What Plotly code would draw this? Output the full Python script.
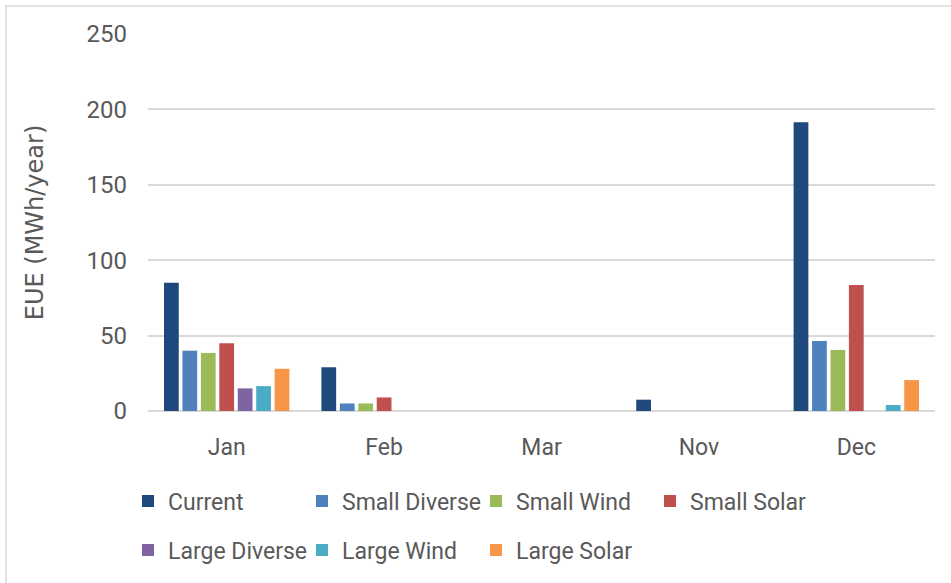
import plotly.graph_objects as go

months = ["Jan", "Feb", "Mar", "Nov", "Dec"]
series_names = ["Current", "Small Diverse", "Small Wind", "Small Solar",
                "Large Diverse", "Large Wind", "Large Solar"]
current = [85, 29, 0, 7.5, 191.5]
small_diverse = [40, 5, 0, 0, 46.5]
small_wind = [38.5, 5, 0, 0, 40.5]
small_solar = [45, 9, 0, 0, 83.5]
large_diverse = [15, 0, 0, 0, 0]
large_wind = [16.5, 0, 0, 0, 4]
large_solar = [28, 0, 0, 0, 20.5]
y_ticks = [0, 50, 100, 150, 200, 250]

values = [current, small_diverse, small_wind, small_solar,
          large_diverse, large_wind, large_solar]
colors = ["#1F497D", "#4F81BD", "#9BBB59", "#C0504D",
          "#8064A2", "#4BACC6", "#F79646"]

FONT = "Liberation Sans Narrow, Roboto, sans-serif"

fig = go.Figure()
for i, (name, vals, col) in enumerate(zip(series_names, values, colors)):
    fig.add_trace(go.Bar(
        x=months, y=vals, name=name,
        marker=dict(color=col, line=dict(width=0)),
        legend="legend" if i < 4 else "legend2",
    ))

W, H = 951, 583
L, R, T, B = 148, 16, 34, 172
pw, ph = W - L - R, H - T - B

def px_x(x):
    return (x - L) / pw

def px_y(y):
    return (H - B - y) / ph

legend_common = dict(
    orientation="h", entrywidth=129, entrywidthmode="pixels",
    font=dict(family=FONT, size=23, color="#595959"),
    bgcolor="rgba(0,0,0,0)", xanchor="left", yanchor="middle",
    itemclick=False, itemdoubleclick=False,
)

fig.update_layout(
    width=W, height=H,
    margin=dict(l=L, r=R, t=T, b=B),
    paper_bgcolor="white", plot_bgcolor="white",
    barmode="group", bargap=0.18, bargroupgap=0.2,
    showlegend=True,
    legend=dict(x=px_x(128), y=px_y(501), **legend_common),
    legend2=dict(x=px_x(128), y=px_y(550), **legend_common),
    xaxis=dict(
        tickfont=dict(family=FONT, size=23, color="#595959"),
        showgrid=False, showline=False, zeroline=False,
        ticks="", ticklabelstandoff=20,
    ),
    yaxis=dict(
        range=[0, 250], tickvals=y_ticks,
        tickfont=dict(family=FONT, size=24, color="#595959"),
        showgrid=True, gridcolor="#D9D9D9", gridwidth=1.8,
        zeroline=True, zerolinecolor="#D9D9D9", zerolinewidth=1.8,
        showline=False, ticks="", ticklabelstandoff=20,
        title=dict(text="EUE (MWh/year)", standoff=36,
                   font=dict(family="DejaVu Sans, sans-serif", size=24, color="#595959")),
        automargin=False,
    ),
)

fig.add_shape(type="rect", xref="paper", yref="paper",
              x0=px_x(6), x1=px_x(960), y0=px_y(600), y1=px_y(6),
              line=dict(color="#D9D9D9", width=1.5), fillcolor="rgba(0,0,0,0)",
              layer="below")

fig.write_html("out.html", config={"displayModeBar": False},
               post_script="document.body.style.margin='0';")
